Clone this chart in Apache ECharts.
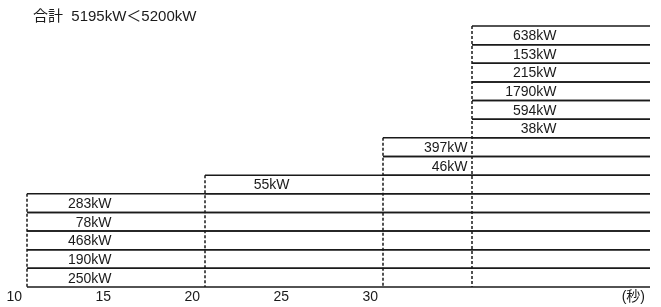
<!DOCTYPE html>
<html>
<head>
<meta charset="utf-8">
<script src="https://cdn.jsdelivr.net/npm/echarts@6/dist/echarts.min.js"></script>
<style>
html, body { margin: 0; padding: 0; background: #fff; }
#main { width: 661px; height: 307px; }
</style>
</head>
<body>
<div id="main"></div>
<script type="text/javascript">
// 各グループの開始時刻（秒）と終了時刻
var startTimes = [10, 20, 30, 35];
var endTime = 45;
// 各グループの負荷（下から順）
var group1 = [250, 190, 468, 78, 283];
var group2 = [55];
var group3 = [46, 397];
var group4 = [38, 594, 1790, 215, 153, 638];
var groups = [group1, group2, group3, group4];
var totalText = '合計  5195kW＜5200kW';
var tickLabels = {10: '10', 15: '15', 20: '20', 25: '25', 30: '30', 45: '(秒)'};

var rows = [];
var edges = [];
var level = 0;
for (var g = 0; g < groups.length; g++) {
	for (var i = 0; i < groups[g].length; i++) {
		rows.push([startTimes[g], endTime, level, level + 1, groups[g][i]]);
		level++;
	}
	edges.push([startTimes[g], level]);
}

var myChart = echarts.init(document.getElementById('main'));
var lineColor = '#1a1a1a';
var font = '"Liberation Sans", Arial, "Noto Sans CJK JP", sans-serif';

var option = {
	animation: false,
	title: {
		text: totalText,
		left: 28, top: 4,
		textStyle: {fontSize: 15, fontWeight: 'normal', color: '#1a1a1a', fontFamily: font}
	},
	grid: {left: 27, right: 11, top: 26, bottom: 20},
	xAxis: {
		type: 'value', min: 10, max: endTime, interval: 5,
		axisLine: {show: false}, axisTick: {show: false}, splitLine: {show: false},
		axisLabel: {
			margin: 3, align: 'right', padding: [0, 5, 0, 0],
			fontSize: 14, color: '#1a1a1a', fontFamily: font,
			formatter: function (v) { return tickLabels[v] || ''; }
		}
	},
	yAxis: {type: 'value', min: 0, max: 14, show: false},
	series: [{
		type: 'custom',
		data: rows,
		renderItem: function (params, api) {
			var x0 = api.value(0), x1 = api.value(1);
			var lt = api.coord([x0, api.value(3)]);
			var rb = api.coord([x1, api.value(2)]);
			var lab = api.coord([x0 + 4.75, (api.value(2) + api.value(3)) / 2]);
			var st = {stroke: lineColor, lineWidth: 1.5};
			return {
				type: 'group',
				children: [
					{type: 'line', shape: {x1: lt[0], y1: lt[1], x2: rb[0], y2: lt[1]}, style: st},
					{type: 'line', shape: {x1: lt[0], y1: rb[1], x2: rb[0], y2: rb[1]}, style: st},
					{type: 'text', x: lab[0], y: lab[1] + 1, style: {
						text: api.value(4) + 'kW', align: 'right', verticalAlign: 'middle',
						fontSize: 14, fill: '#1a1a1a', fontFamily: font
					}}
				]
			};
		}
	}, {
		type: 'custom',
		data: edges,
		renderItem: function (params, api) {
			var top = api.coord([api.value(0), api.value(1)]);
			var bot = api.coord([api.value(0), 0]);
			return {
				type: 'line',
				shape: {x1: top[0], y1: top[1], x2: bot[0], y2: bot[1]},
				style: {stroke: lineColor, lineWidth: 1.5, lineDash: [3, 2]}
			};
		}
	}]
};
myChart.setOption(option);
</script>
</body>
</html>
